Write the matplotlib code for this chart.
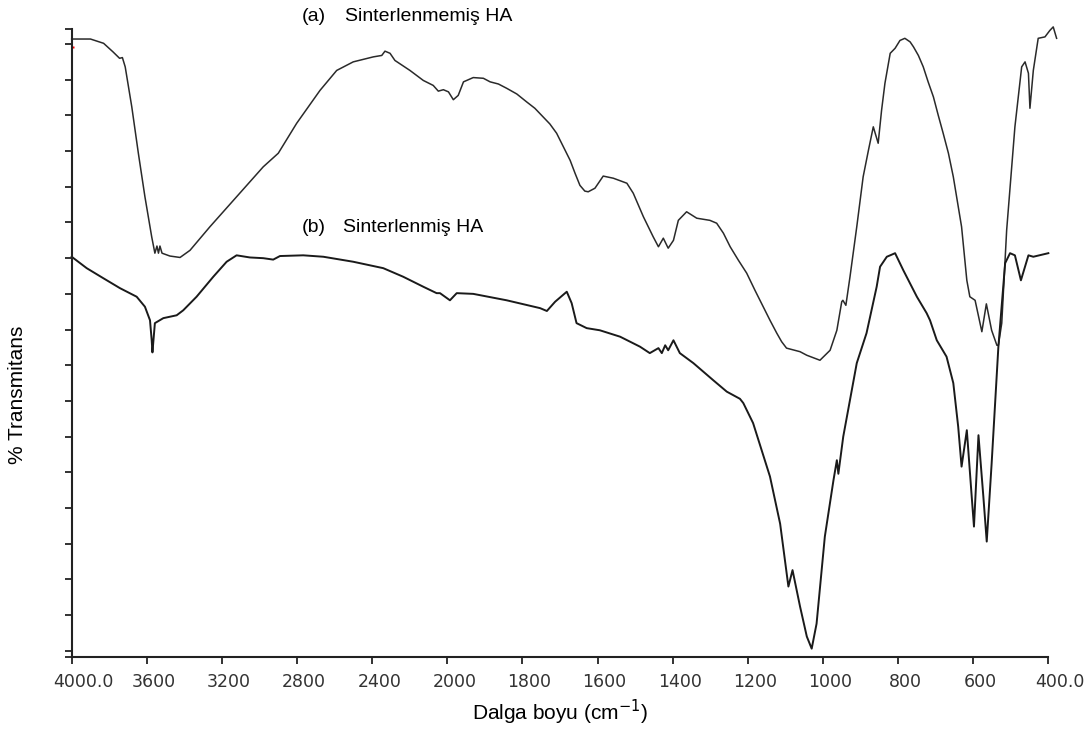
import numpy as np
import matplotlib
matplotlib.use('Agg')
import matplotlib.pyplot as plt
import matplotlib.transforms as mtransforms

# FTIR spektrumlari: (a) sinterlenmemis, (b) sinterlenmis HA
wn_a = [4000, 3900, 3830, 3780, 3745, 3730, 3715, 3680, 3645, 3610, 3574, 3557,
        3546, 3538, 3530, 3519, 3477, 3423, 3370, 3264, 3122, 2980, 2900, 2802,
        2678, 2589, 2501, 2394, 2349, 2332, 2305, 2279, 2199, 2128, 2075, 2048,
        2021, 1997, 1984, 1971, 1957, 1931, 1904, 1886, 1864, 1842, 1815, 1789,
        1767, 1745, 1727, 1709, 1691, 1673, 1660, 1647, 1634, 1625, 1607, 1585,
        1558, 1522, 1505, 1478, 1452, 1438, 1425, 1412, 1398, 1385, 1363, 1336,
        1301, 1283, 1265, 1247, 1225, 1203, 1181, 1159, 1141, 1123, 1110, 1097,
        1061, 1043, 1008, 981, 963, 950, 947, 939, 928, 910, 893, 879, 866, 853,
        844, 835, 821, 808, 795, 782, 768, 759, 746, 733, 720, 706, 693, 680,
        666, 653, 631, 617, 609, 595, 577, 565, 551, 537, 533, 524, 511, 489,
        471, 462, 453, 449, 440, 427, 409, 396, 387, 378]
t_a = [85.7, 85.7, 85.1, 83.9, 83.0, 83.1, 81.8, 76.2, 69.7, 63.6, 58.0, 55.7,
       56.7, 55.7, 56.7, 55.7, 55.3, 55.1, 56.1, 59.4, 63.6, 67.8, 69.7, 73.9,
       78.5, 81.3, 82.5, 83.2, 83.4, 84.0, 83.7, 82.7, 81.3, 79.9, 79.2, 78.4,
       78.6, 78.3, 77.2, 77.8, 79.7, 80.3, 80.2, 79.7, 79.4, 78.8, 78.0, 76.9,
       76.0, 74.8, 73.8, 72.5, 70.6, 68.7, 66.9, 65.2, 64.4, 64.3, 64.8, 66.5,
       66.2, 65.5, 64.1, 60.8, 58.0, 56.6, 57.8, 56.4, 57.5, 60.3, 61.5, 60.6,
       60.3, 59.9, 58.5, 56.6, 54.7, 52.9, 50.5, 48.2, 46.3, 44.5, 43.3, 42.4,
       41.9, 41.4, 40.7, 42.1, 44.9, 48.9, 49.1, 48.4, 52.4, 59.4, 66.4, 70.1,
       73.4, 71.1, 75.7, 79.5, 83.7, 84.4, 85.5, 85.8, 85.3, 84.6, 83.4, 81.8,
       79.7, 77.6, 75.0, 72.5, 69.7, 66.4, 59.4, 51.9, 49.6, 49.1, 44.7, 48.6,
       44.9, 42.8, 42.8, 45.9, 58.9, 73.4, 81.8, 82.5, 80.9, 76.0, 81.3, 85.8,
       86.0, 86.9, 87.4, 85.8]

wn_b = [4000, 3920, 3832, 3743, 3654, 3610, 3583, 3574, 3570, 3557, 3512, 3441,
        3406, 3335, 3246, 3175, 3122, 3051, 2980, 2927, 2891, 2767, 2660, 2501,
        2341, 2235, 2128, 2057, 2039, 1993, 1975, 1931, 1842, 1753, 1735, 1713,
        1682, 1669, 1656, 1629, 1594, 1540, 1487, 1461, 1438, 1429, 1420, 1412,
        1398, 1381, 1345, 1292, 1256, 1221, 1212, 1186, 1141, 1114, 1092, 1081,
        1061, 1043, 1030, 1017, 995, 972, 963, 959, 946, 910, 884, 857, 848,
        830, 821, 808, 786, 750, 724, 715, 697, 671, 653, 640, 631, 617, 604,
        598, 586, 573, 564, 551, 533, 515, 502, 489, 473, 453, 440, 400]
t_b = [55.2, 53.6, 52.2, 50.8, 49.6, 48.2, 46.3, 43.5, 41.8, 45.9, 46.6, 47.0,
       47.7, 49.6, 52.4, 54.5, 55.4, 55.1, 55.0, 54.8, 55.3, 55.4, 55.2, 54.5,
       53.6, 52.4, 51.0, 50.1, 50.1, 49.1, 50.1, 50.0, 49.1, 48.0, 47.6, 48.9,
       50.3, 48.7, 45.9, 45.2, 44.9, 44.0, 42.6, 41.7, 42.4, 41.7, 42.8, 42.1,
       43.5, 41.7, 40.3, 37.9, 36.3, 35.3, 34.7, 31.9, 24.4, 17.8, 9.0, 11.3,
       6.2, 2.0, 0.3, 3.8, 16.0, 23.9, 26.7, 24.8, 30.0, 40.3, 44.5, 51.0, 53.8,
       55.2, 55.4, 55.7, 53.3, 49.6, 47.3, 46.3, 43.5, 41.2, 37.5, 31.4, 25.8,
       30.9, 21.6, 17.4, 30.2, 21.6, 15.3, 26.2, 42.6, 54.3, 55.7, 55.4, 51.9,
       55.4, 55.2, 55.7]

xticks = [4000, 3600, 3200, 2800, 2400, 2000, 1800, 1600, 1400, 1200, 1000, 800, 600, 400]
xtick_labels = ['4000.0', '3600', '3200', '2800', '2400', '2000', '1800', '1600',
                '1400', '1200', '1000', '800', '600', '400.0']


# 2000 cm-1 altinda eksen 2 kat genisletilmis
def fwd(x):
    x = np.asarray(x, dtype=float)
    return np.where(x > 2000, 2000 + (x - 2000) / 2.0, x)


def inv(u):
    u = np.asarray(u, dtype=float)
    return np.where(u > 2000, 2000 + (u - 2000) * 2.0, u)


plt.rcParams['font.family'] = ['Liberation Sans', 'DejaVu Sans']

fig = plt.figure(figsize=(10.91, 7.35), dpi=100)
ax = fig.add_axes([0.0657, 0.1068, 0.8952, 0.8537])

ax.set_xscale('function', functions=(fwd, inv))
ax.plot(wn_a, t_a, color='#2a2a2a', lw=1.1, clip_on=False)
ax.plot(wn_b, t_b, color='#1a1a1a', lw=1.4, clip_on=False)

ylo, yhi = -0.8, 87.1
ax.set_xlim(4000, 400)
ax.set_ylim(ylo, yhi)

ax.set_xticks(xticks)
ax.set_xticklabels(xtick_labels, family='DejaVu Sans', fontsize=12.5, color='#333333')
ax.set_yticks([ylo] + list(range(0, 90, 5)) + [yhi])
ax.set_yticklabels([])
ax.minorticks_off()

for s in ['top', 'right']:
    ax.spines[s].set_visible(False)
for s in ['left', 'bottom']:
    ax.spines[s].set_linewidth(1.5)
    ax.spines[s].set_color('#222222')
ax.tick_params(axis='both', direction='out', length=5, width=1.3, color='#222222')
ax.tick_params(axis='x', pad=7)

# etiketler tik noktasinin biraz sagina kayik (tick_params'tan sonra)
for lab in ax.get_xticklabels():
    dx = 12 if lab.get_text().endswith('.0') else 7
    lab.set_transform(lab.get_transform() +
                      mtransforms.ScaledTranslation(dx / 100.0, 0, fig.dpi_scale_trans))

# kucuk kirmizi isaret
ax.plot([3993], [84.6], marker='s', ms=1.5, color='red', mec='none', clip_on=False)

fig.text(301.7 / 1091, 1 - 16.7 / 735, '(a)', fontsize=14, va='center', ha='left')
fig.text(345 / 1091, 1 - 16.7 / 735, 'Sinterlenmemiş HA', fontsize=14, va='center', ha='left')
fig.text(301.7 / 1091, 1 - 227 / 735, '(b)', fontsize=14, va='center', ha='left')
fig.text(343.3 / 1091, 1 - 227 / 735, 'Sinterlenmiş HA', fontsize=14, va='center', ha='left')

fig.text(560 / 1091, 1 - 712 / 735, 'Dalga boyu (cm$^{-1}$)', fontsize=15,
         ha='center', va='center')
fig.text(18 / 1091, 1 - 395 / 735, '% Transmitans', fontsize=15, rotation=90,
         ha='center', va='center')

plt.savefig('out.png', dpi=100)
